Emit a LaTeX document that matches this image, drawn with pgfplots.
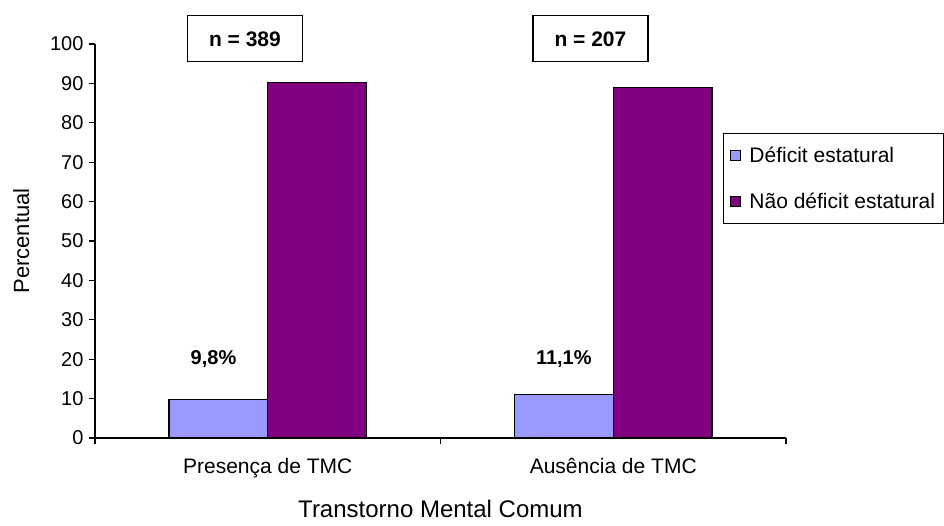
\documentclass[border=0pt]{standalone}
\usepackage{fontspec}
\setmainfont{Liberation Sans}
\usepackage{pgfplots}
\pgfplotsset{compat=1.18}

\definecolor{deficit}{HTML}{9999FF}
\definecolor{naodeficit}{HTML}{800080}

\newcommand{\fs}[1]{\fontsize{#1}{1.2\dimexpr#1pt\relax}\selectfont}

\begin{document}
\begin{tikzpicture}[x=1pt,y=1pt]
% page frame
\path[use as bounding box] (-95,-87) rectangle (849,438);
\begin{axis}[
  at={(0,0)}, anchor=south west,
  scale only axis,
  width=691pt, height=394pt,
  xmin=-0.5, xmax=1.5,
  ymin=0, ymax=100,
  axis x line=bottom, axis y line=left,
  axis line style={-, line width=1.2pt},
  every tick/.style={black, line width=1.2pt},
  tick align=outside,
  major tick length=6pt,
  ytick={0,10,...,100},
  xtick={-0.5,0.5,1.5},
  xticklabels={},
  extra x ticks={0,1},
  extra x tick labels={Presença de TMC, Ausência de TMC},
  extra x tick style={major tick length=0pt,
    tick label style={font=\fs{21}, yshift=-17pt}},
  /pgf/number format/assume math mode=true,
  yticklabel style={font=\fs{20}, xshift=-2pt},
  ylabel={Percentual},
  ylabel style={font=\fs{22}, yshift=14pt},
  xlabel={Transtorno Mental Comum},
  xlabel style={font=\fs{24}, yshift=-9pt},
  ybar,
  bar width=0.286,
  clip=false,
  legend style={at={(rel axis cs:0.9095,0.774)}, anchor=north west,
    draw=black, line width=1pt, font=\fs{21},
    inner xsep=6pt, inner ysep=11pt, row sep=26pt},
  legend cell align=left,
  legend image code/.code={%
    \draw[line width=1pt,#1] (0pt,-5pt) rectangle (10pt,5pt);
    \path[draw=none, fill=none] (0pt,0pt) -- (17pt,0pt);},
]
\addplot[bar shift=-0.143, fill=deficit, draw=black, line width=1.2pt]
  coordinates {(0,9.8) (1,11.1)};
\addplot[bar shift=0.143, fill=naodeficit, draw=black, line width=1.2pt]
  coordinates {(0,90.2) (1,88.9)};
\legend{Déficit estatural, Não déficit estatural}

% value labels above the first series
\node[font=\bfseries\fs{20}] at (axis cs:-0.157,20) {9,8\%};
\node[font=\bfseries\fs{20}] at (axis cs:0.857,20) {11,1\%};

% sample sizes
\node[draw, line width=1.2pt, minimum width=115pt, minimum height=46pt,
  font=\bfseries\fs{21}] at (axis cs:-0.066,101.3) {n = 389};
\node[draw, line width=1.2pt, minimum width=115pt, minimum height=46pt,
  font=\bfseries\fs{21}] at (axis cs:0.934,101.3) {n = 207};
\end{axis}
\end{tikzpicture}
\end{document}
